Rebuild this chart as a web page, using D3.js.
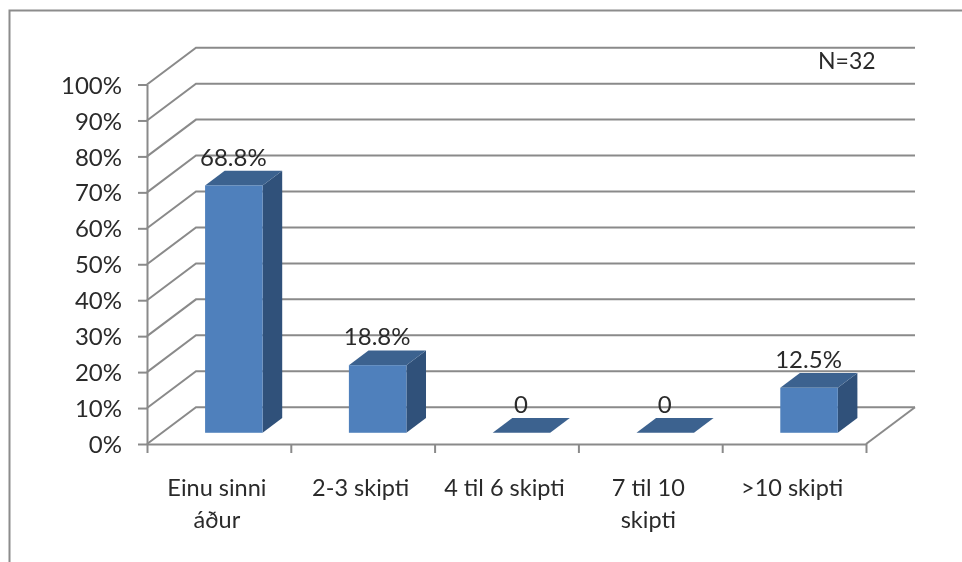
<!DOCTYPE html>
<html>
<head>
<meta charset="utf-8">
<script src="https://cdnjs.cloudflare.com/ajax/libs/d3/7.8.5/d3.min.js"></script>
<style>
html,body{margin:0;padding:0;background:#fff;overflow:hidden}
svg{display:block}
text{font-family:Lato,"Open Sans",sans-serif;fill:#2a2a2a}
</style>
</head>
<body>
<svg id="chart" width="962" height="562"></svg>
<script>
const categories = ["Einu sinni\náður", "2-3 skipti", "4 til 6 skipti", "7 til 10\nskipti", ">10 skipti"];
const values = [68.8, 18.8, 0, 0, 12.5];
const valueLabels = ["68.8%", "18.8%", "0", "0", "12.5%"];
const yTicks = [0, 10, 20, 30, 40, 50, 60, 70, 80, 90, 100];
const note = "N=32";

const svg = d3.select("#chart");
const defs = svg.append("defs");
defs.append("filter").attr("id", "soft")
  .attr("filterUnits", "userSpaceOnUse").attr("x", 0).attr("y", 0).attr("width", 962).attr("height", 562)
  .append("feGaussianBlur").attr("stdDev", 0.45);
const root = svg.append("g").attr("filter", "url(#soft)");

const GRID = "#8a8a8a";
const y = d3.scaleLinear().domain([0, 100]).range([444, 84.5]);
const x = d3.scaleBand().domain(categories).range([147, 866]).paddingInner(0.6).paddingOuter(0.3);
const xEdge = d3.scaleLinear().domain([0, categories.length]).range([147, 866]);
// oblique projection of depth (0 = front of floor, 1 = back wall)
const depth = {dx: 49, dy: -36.8};
const px = (xv, d) => xv + depth.dx * d;
const py = (v, d) => y(v) + depth.dy * d;

// frame
root.append("path").attr("d", "M9.5,562V10.5H962").attr("fill", "none").attr("stroke", "#8c8c8c").attr("stroke-width", 2);

// walls
const grid = root.append("g").attr("fill", "none").attr("stroke", GRID).attr("stroke-width", 2);
grid.selectAll("path").data(yTicks).join("path")
  .attr("d", v => `M${px(147, 0)},${py(v, 0)}L${px(147, 1)},${py(v, 1)}L${px(866, 1)},${py(v, 1)}`);
grid.append("path").attr("d", `M${px(866, 0)},${py(0, 0)}L${px(866, 1)},${py(0, 1)}`);

// bars
const dFront = 0.305, dBack = 0.705;
const barX = c => px(x(c), dFront);
const bars = root.append("g").selectAll("g").data(categories.map((c, i) => ({c, v: values[i], label: valueLabels[i]}))).join("g");
bars.filter(d => d.v > 0).append("path").attr("fill", "#30517a")
  .attr("d", d => {
    const r = x(d.c) + x.bandwidth();
    return `M${px(r, dFront)},${py(d.v, dFront)}L${px(r, dBack)},${py(d.v, dBack)}L${px(r, dBack)},${py(0, dBack)}L${px(r, dFront)},${py(0, dFront)}Z`;
  });
bars.append("path").attr("fill", "#3c628f")
  .attr("d", d => {
    const l = x(d.c), r = l + x.bandwidth();
    return `M${px(l, dFront)},${py(d.v, dFront)}L${px(l, dBack)},${py(d.v, dBack)}L${px(r, dBack)},${py(d.v, dBack)}L${px(r, dFront)},${py(d.v, dFront)}Z`;
  });
bars.filter(d => d.v > 0).append("rect").attr("fill", "#4f80bc")
  .attr("x", d => barX(d.c)).attr("width", x.bandwidth())
  .attr("y", d => py(d.v, dFront)).attr("height", d => py(0, dFront) - py(d.v, dFront));
bars.append("text").attr("text-anchor", "middle").attr("font-size", 24)
  .attr("x", d => barX(d.c) + x.bandwidth() / 2 - 0.5)
  .attr("y", d => py(d.v, dBack) - 5)
  .text(d => d.label);

// axes
const styleAxis = g => {
  g.select(".domain").attr("stroke", GRID).attr("stroke-width", 2);
  g.selectAll("line").attr("stroke", GRID).attr("stroke-width", 2);
};
root.append("g").attr("transform", "translate(147,0)")
  .call(d3.axisLeft(y).tickValues(yTicks).tickSize(9).tickSizeOuter(0).tickPadding(16).tickFormat(d => d + "%"))
  .call(styleAxis)
  .call(g => g.selectAll("text").attr("font-size", 24).attr("dy", "0.36em").style("font-family", "Lato").style("fill", "#2a2a2a"));
root.append("g").attr("transform", "translate(0,444)")
  .call(d3.axisBottom(xEdge).tickValues(d3.range(categories.length + 1)).tickSize(9).tickSizeOuter(0).tickFormat(""))
  .call(styleAxis);

const labels = root.append("g").attr("text-anchor", "middle").attr("font-size", 23.5)
  .selectAll("text").data(categories).join("text")
  .attr("transform", c => `translate(${x(c) + x.bandwidth() / 2 - 2},496)`);
labels.selectAll("tspan").data(c => c.split("\n")).join("tspan")
  .attr("x", 0).attr("y", (d, i) => i * 31.5).text(d => d);

root.append("text").attr("x", 818).attr("y", 69).attr("font-size", 23).text(note);
</script>
</body>
</html>
